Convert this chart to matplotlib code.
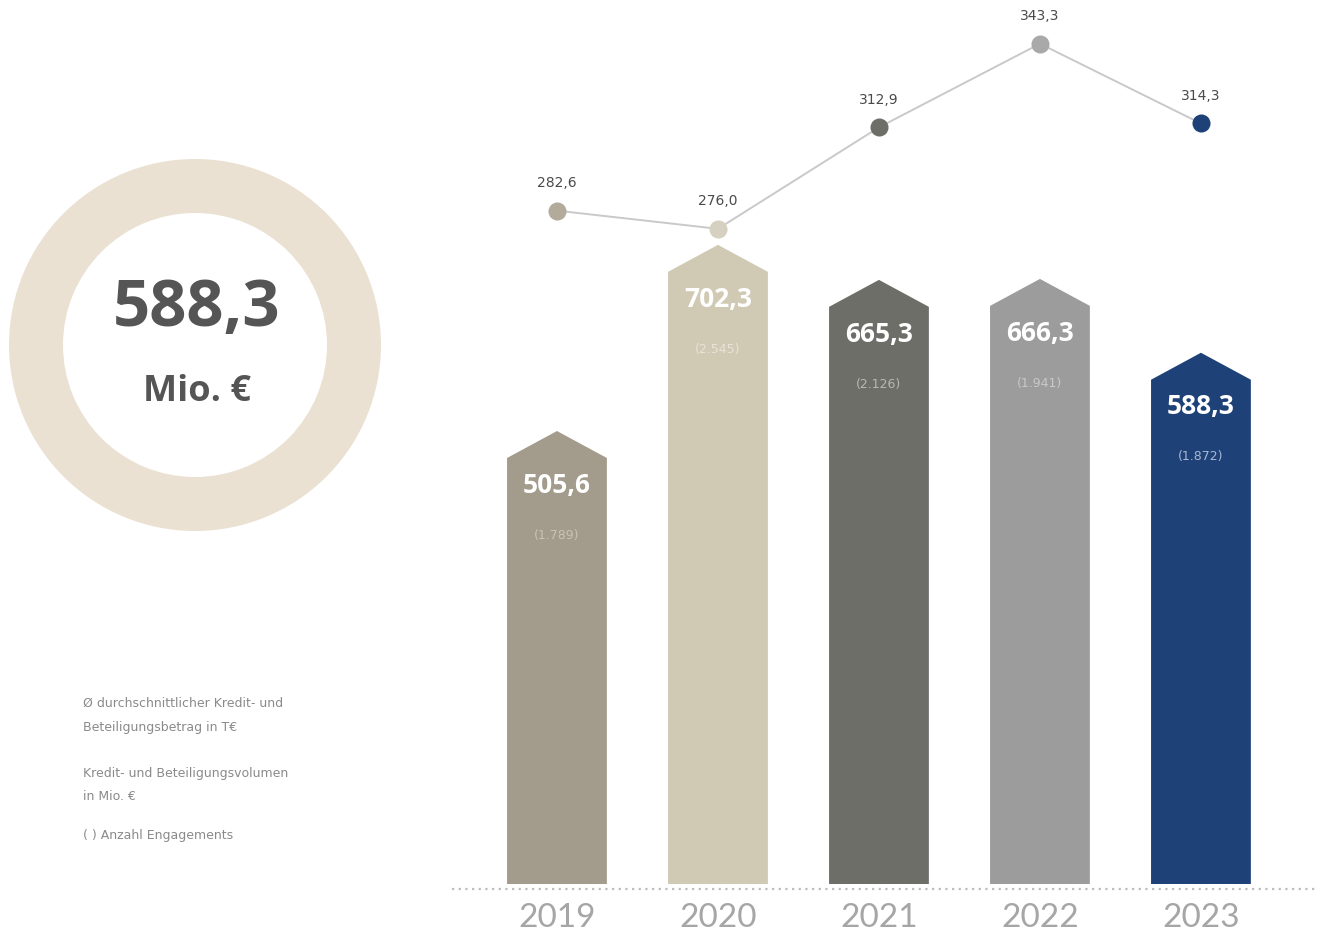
import matplotlib
matplotlib.use('Agg')
import matplotlib.pyplot as plt
from matplotlib.patches import Polygon, Wedge

# data
years = ['2019', '2020', '2021', '2022', '2023']
volume = [505.6, 702.3, 665.3, 666.3, 588.3]          # Mio. EUR
volume_labels = ['505,6', '702,3', '665,3', '666,3', '588,3']
counts = ['(1.789)', '(2.545)', '(2.126)', '(1.941)', '(1.872)']
avg_amount = [282.6, 276.0, 312.9, 343.3, 314.3]       # T EUR
avg_labels = ['282,6', '276,0', '312,9', '343,3', '314,3']
total_label = '588,3'

bar_colors = ['#A39B8B', '#D0CAB5', '#6E6E69', '#9C9C9C', '#1E4178']
dot_colors = ['#B2AB9C', '#D6D0C0', '#6E6E69', '#A9A9A9', '#1E4178']
count_colors = ['#C9C3B6', '#E8E3D8', '#B8B8B4', '#C9C9C9', '#A9B8D2']

W, H = 1318, 934
fig = plt.figure(figsize=(W / 100, H / 100), dpi=100)

# background axes in pixel coords for donut, legend text and baseline
bg = fig.add_axes([0, 0, 1, 1])
bg.set_xlim(0, W)
bg.set_ylim(H, 0)
bg.axis('off')

bg.add_patch(Wedge((195, 345), 186, 0, 360, width=54, color='#EAE1D2', lw=0))
bg.text(197, 310, total_label, ha='center', va='center', fontsize=47,
        fontweight='bold', color='#555555', family='Open Sans')
bg.text(197, 392, 'Mio. €', ha='center', va='center', fontsize=26,
        fontweight='bold', color='#555555', family='Open Sans')

legend_lines = [
    (703, 'Ø durchschnittlicher Kredit- und'),
    (727, 'Beteiligungsbetrag in T€'),
    (773, 'Kredit- und Beteiligungsvolumen'),
    (796, 'in Mio. €'),
    (836, '( ) Anzahl Engagements'),
]
for y, s in legend_lines:
    bg.text(83, y, s, ha='left', va='center', fontsize=9, color='#8A8A8A')

bg.plot([452, W], [889, 889], color='#BDBDBD', lw=1.6, ls=(0, (1, 2)))

# bar axes
left_px, right_px, base_px = 452, W, 884
ax = fig.add_axes([left_px / W, (H - base_px) / H, (right_px - left_px) / W, base_px / H])
ax.set_xlim(-0.652, 4.727)
ax.set_ylim(27, 961)
ax.axis('off')

half_w = 0.31
tip = 28.5
for i, v in enumerate(volume):
    pts = [(i - half_w, 0), (i - half_w, v - tip), (i, v),
           (i + half_w, v - tip), (i + half_w, 0)]
    ax.add_patch(Polygon(pts, closed=True, color=bar_colors[i], lw=0))
    ax.annotate(volume_labels[i], (i, v), xytext=(0, -39), textcoords='offset points',
                ha='center', va='center', fontsize=19, fontweight='bold',
                color='white', family='Open Sans')
    ax.annotate(counts[i], (i, v), xytext=(0, -75), textcoords='offset points',
                ha='center', va='center', fontsize=9, color=count_colors[i])

for i, y in enumerate(years):
    bg.text(left_px + (i + 0.652) * 161, 918, y, ha='center', va='center',
            fontsize=24, color='#A6A6A6', family='Lato')

# line axes
ax2 = fig.add_axes(ax.get_position())
ax2.set_xlim(ax.get_xlim())
ax2.set_ylim(37.75, 359.2)
ax2.axis('off')
x = list(range(len(years)))
ax2.plot(x, avg_amount, color='#C9C9C9', lw=1.4, zorder=1)
for i, v in enumerate(avg_amount):
    ax2.plot(i, v, 'o', ms=13, color=dot_colors[i], mec='none', zorder=2)
    ax2.annotate(avg_labels[i], (i, v), xytext=(0, 20), textcoords='offset points',
                 ha='center', va='center', fontsize=10, color='#4A4A4A')

fig.savefig('out.png', dpi=100)
